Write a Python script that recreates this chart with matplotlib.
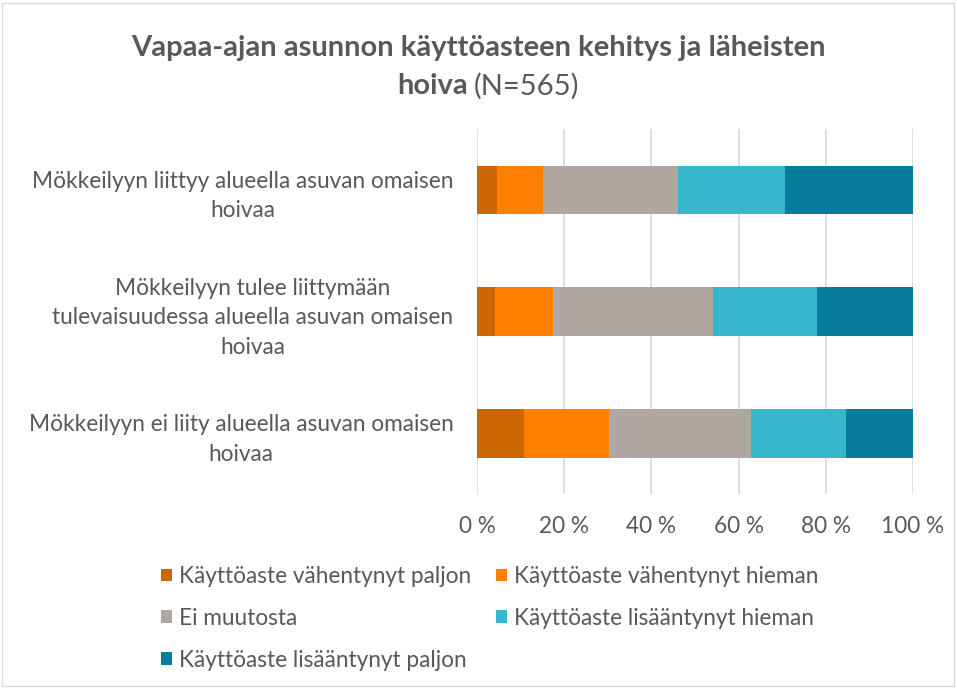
import matplotlib
matplotlib.use("Agg")
import matplotlib.pyplot as plt
from matplotlib.patches import Rectangle

plt.rcParams['font.family'] = ['Lato', 'DejaVu Sans']

categories = [
    "Mökkeilyyn liittyy alueella asuvan omaisen\nhoivaa",
    "Mökkeilyyn tulee liittymään\ntulevaisuudessa alueella asuvan omaisen\nhoivaa",
    "Mökkeilyyn ei liity alueella asuvan omaisen\nhoivaa",
]
series_names = [
    "Käyttöaste vähentynyt paljon",
    "Käyttöaste vähentynyt hieman",
    "Ei muutosta",
    "Käyttöaste lisääntynyt hieman",
    "Käyttöaste lisääntynyt paljon",
]
values = [
    [4.5, 4.2, 10.8],
    [10.6, 13.2, 19.5],
    [31.0, 36.8, 32.5],
    [24.6, 23.7, 21.8],
    [29.3, 22.1, 15.4],
]
colors = ["#CC6600", "#FF8000", "#AFA7A1", "#36B7CB", "#087C9C"]
xticks = [0, 20, 40, 60, 80, 100]
xticklabels = ["0 %", "20 %", "40 %", "60 %", "80 %", "100 %"]

W, H = 957, 688
FS = 16.3
fig = plt.figure(figsize=(W / 100, H / 100), dpi=100)
ax = fig.add_axes([477 / W, 1 - 494 / H, (913 - 477) / W, (494 - 129) / H])

ypos = list(range(len(categories)))
left = [0.0] * len(categories)
handles = []
for name, vals, c in zip(series_names, values, colors):
    b = ax.barh(ypos, vals, left=left, height=0.4, color=c, label=name, zorder=3)
    handles.append(b)
    left = [l + v for l, v in zip(left, vals)]

ax.set_xlim(0, 100)
ax.set_ylim(len(categories) - 0.5, -0.5)
ax.set_xticks(xticks)
ax.set_xticklabels(xticklabels)
ax.set_yticks(ypos)
ax.set_yticklabels(categories, multialignment='center', linespacing=1.5)
ax.tick_params(axis='both', length=0, labelsize=FS, labelcolor='#595959')
ax.tick_params(axis='y', pad=17)
ax.tick_params(axis='x', pad=16)
ax.grid(axis='x', color='#D9D9D9', linewidth=1.2, zorder=0)
for s in ax.spines.values():
    s.set_visible(False)

# title
fig.text(0.5, 1 - 48 / H, "Vapaa-ajan asunnon käyttöasteen kehitys ja läheisten",
         ha='center', va='center', fontsize=21, fontweight='bold', color='#595959')
fig.text(468 / W, 1 - 86 / H, "hoiva", ha='right', va='center', fontsize=21,
         fontweight='bold', color='#595959')
fig.text(474 / W, 1 - 86 / H, "(N=565)", ha='left', va='center', fontsize=21,
         color='#595959')

order = [0, 2, 4, 1, 3]
leg = fig.legend(handles=[handles[i] for i in order], labels=[series_names[i] for i in order],
                 loc='upper left', bbox_to_anchor=(161 / W, 1 - 566 / H),
                 ncol=2, frameon=False, fontsize=FS, labelcolor='#595959',
                 handlelength=0.5, handleheight=0.5, handletextpad=0.3,
                 columnspacing=1.08, labelspacing=0.92, borderpad=0, borderaxespad=0)

fig.patches.append(Rectangle((2 / W, 2 / H), 1 - 5 / W, 1 - 5 / H, transform=fig.transFigure,
                             fill=False, edgecolor='#D9D9D9', linewidth=1))

fig.savefig("out.png", dpi=100)
